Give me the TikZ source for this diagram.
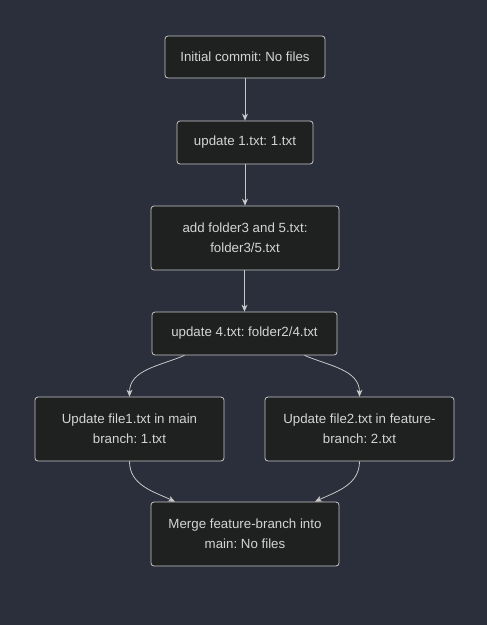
\documentclass[tikz,border=0pt]{standalone}
\usepackage{fontspec}
\setmainfont{Liberation Sans}
\frenchspacing
\usetikzlibrary{arrows.meta}
\definecolor{bgc}{HTML}{2B2E3B}
\definecolor{boxfill}{HTML}{1F2020}
\definecolor{boxline}{HTML}{C8C8C8}
\definecolor{txt}{HTML}{D4D4D4}
\definecolor{edgec}{HTML}{C8C8C8}
\tikzset{
  commit/.style={draw=boxline, fill=boxfill, rounded corners=3pt, line width=0.8pt,
    text=txt, font=\fontsize{13.3}{20}\selectfont, align=center, inner sep=0pt},
  conn/.style={draw=edgec, line width=0.8pt, -{Stealth[length=7pt,width=6pt]}}
}
\begin{document}
\begin{tikzpicture}[x=1pt,y=-1pt]
\fill[bgc] (0,0) rectangle (487,625);
\useasboundingbox (0,0) rectangle (487,625);
\node[commit, minimum width=160pt, minimum height=42pt] (n1) at (245,57) {Initial commit: No files};
\node[commit, minimum width=136pt, minimum height=43pt] (n2) at (245,142.5) {update 1.txt: 1.txt};
\node[commit, minimum width=188pt, minimum height=64pt] (n3) at (245,238) {add folder3 and 5.txt:\\folder3/5.txt};
\node[commit, minimum width=185pt, minimum height=43pt] (n4) at (244.5,333.5) {update 4.txt: folder2/4.txt};
\node[commit, minimum width=189pt, minimum height=64pt] (n5) at (129.5,429) {Update file1.txt in main\\branch: 1.txt};
\node[commit, minimum width=189pt, minimum height=64pt] (n6) at (359.5,429) {Update file2.txt in feature-\\branch: 2.txt};
\node[commit, minimum width=188pt, minimum height=64pt] (n7) at (245,534) {Merge feature-branch into\\main: No files};
\draw[conn] (n1) -- (n2);
\draw[conn] (n2) -- (n3);
\draw[conn] (n3.south -| n4.north) -- (n4);
\draw[conn] ([xshift=-60pt]n4.south) to[out=-157, in=90] (n5.north);
\draw[conn] ([xshift=60pt]n4.south) to[out=-23, in=90] (n6.north);
\draw[conn] (n5.south) to[out=-90, in=155] ([xshift=-70pt]n7.north);
\draw[conn] (n6.south) to[out=-90, in=25] ([xshift=70pt]n7.north);
\end{tikzpicture}
\end{document}
